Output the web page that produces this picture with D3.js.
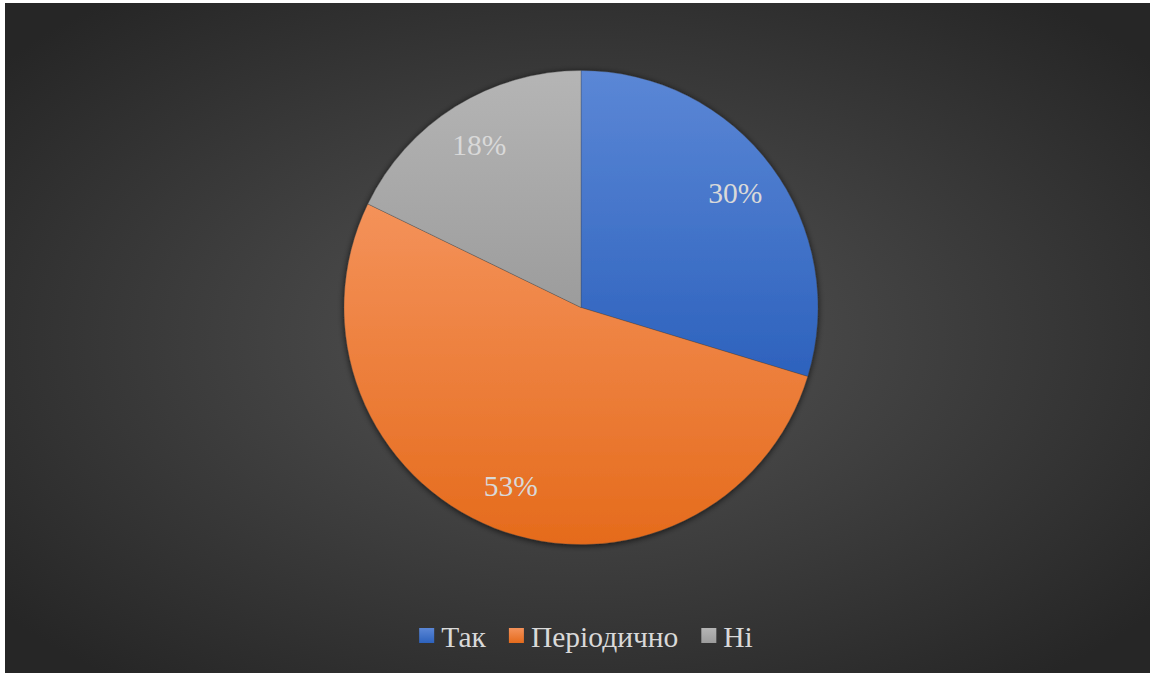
<!DOCTYPE html>
<html>
<head>
<meta charset="utf-8">
<script src="https://cdn.jsdelivr.net/npm/d3@7"></script>
<style>
  body { margin: 0; background: #ffffff; }
  svg { display: block; }
</style>
</head>
<body>
<div id="chart"></div>
<script>
// data
var categories = ["Так", "Періодично", "Ні"];
var values = [29.7, 52.5, 17.8];
var labels = ["30%", "53%", "18%"];
var colorsTop = ["#5b87d6", "#f4925a", "#b5b5b5"];
var colorsBottom = ["#2d62bd", "#e56b1c", "#9c9c9c"];

var FONT = "Liberation Serif";
var W = 1150, H = 673;
var svg = d3.select("#chart").append("svg")
    .attr("width", W)
    .attr("height", H);

var defs = svg.append("defs");

var bg = defs.append("radialGradient")
    .attr("id", "bg")
    .attr("cx", "50%").attr("cy", "50%").attr("r", "65%");
bg.append("stop").attr("offset", "0%").attr("stop-color", "#555555");
bg.append("stop").attr("offset", "100%").attr("stop-color", "#262626");

categories.forEach(function(c, i) {
    var g = defs.append("linearGradient")
        .attr("id", "slice" + i)
        .attr("x1", 0).attr("y1", 0).attr("x2", 0).attr("y2", 1);
    g.append("stop").attr("offset", "0%").attr("stop-color", colorsTop[i]);
    g.append("stop").attr("offset", "100%").attr("stop-color", colorsBottom[i]);
});

var shadow = defs.append("filter")
    .attr("id", "shadow")
    .attr("x", "-10%").attr("y", "-10%").attr("width", "120%").attr("height", "120%");
shadow.append("feDropShadow")
    .attr("dx", 0).attr("dy", 1)
    .attr("stdDeviation", 3)
    .attr("flood-color", "#000")
    .attr("flood-opacity", 0.7);

// chart area
svg.append("rect")
    .attr("x", 5).attr("y", 3)
    .attr("width", W - 5).attr("height", H - 3)
    .attr("fill", "url(#bg)");

var cx = 581, cy = 307.5, radius = 237;

var pie = d3.pie().sort(null).value(function(d) { return d; });
var arcs = pie(values);
var arc = d3.arc().innerRadius(0).outerRadius(radius);
var labelArc = d3.arc().innerRadius(radius * 0.81).outerRadius(radius * 0.81);

var g = svg.append("g")
    .attr("transform", "translate(" + cx + "," + cy + ")");

g.append("g")
    .attr("filter", "url(#shadow)")
    .selectAll("path")
    .data(arcs)
    .enter().append("path")
    .attr("d", arc)
    .attr("fill", function(d, i) { return "url(#slice" + i + ")"; })
    .attr("stroke", "rgba(60,60,60,0.5)")
    .attr("stroke-width", 0.6);

g.selectAll("text.pct")
    .data(arcs)
    .enter().append("text")
    .attr("class", "pct")
    .attr("transform", function(d) { return "translate(" + labelArc.centroid(d) + ")"; })
    .attr("dy", "0.33em")
    .attr("text-anchor", "middle")
    .attr("font-family", FONT)
    .attr("font-size", 29.5)
    .attr("fill", "#d9d9d9")
    .text(function(d, i) { return labels[i]; });

// legend
var legend = svg.append("g");
var box = 15, gapText = 7, gapItem = 23;
var x = 0;
categories.forEach(function(c, i) {
    var item = legend.append("g").attr("transform", "translate(" + x + ",0)");
    item.append("rect")
        .attr("x", 0).attr("y", -19)
        .attr("width", box).attr("height", box)
        .attr("fill", "url(#slice" + i + ")");
    var t = item.append("text")
        .attr("x", box + gapText)
        .attr("y", 0)
        .attr("font-family", FONT)
        .attr("font-size", 29.5)
        .attr("fill", "#d9d9d9")
        .text(c);
    x += box + gapText + t.node().getComputedTextLength() + gapItem;
});
var legendWidth = x - gapItem;
legend.attr("transform", "translate(" + (586 - legendWidth / 2) + ",647)");
</script>
</body>
</html>
